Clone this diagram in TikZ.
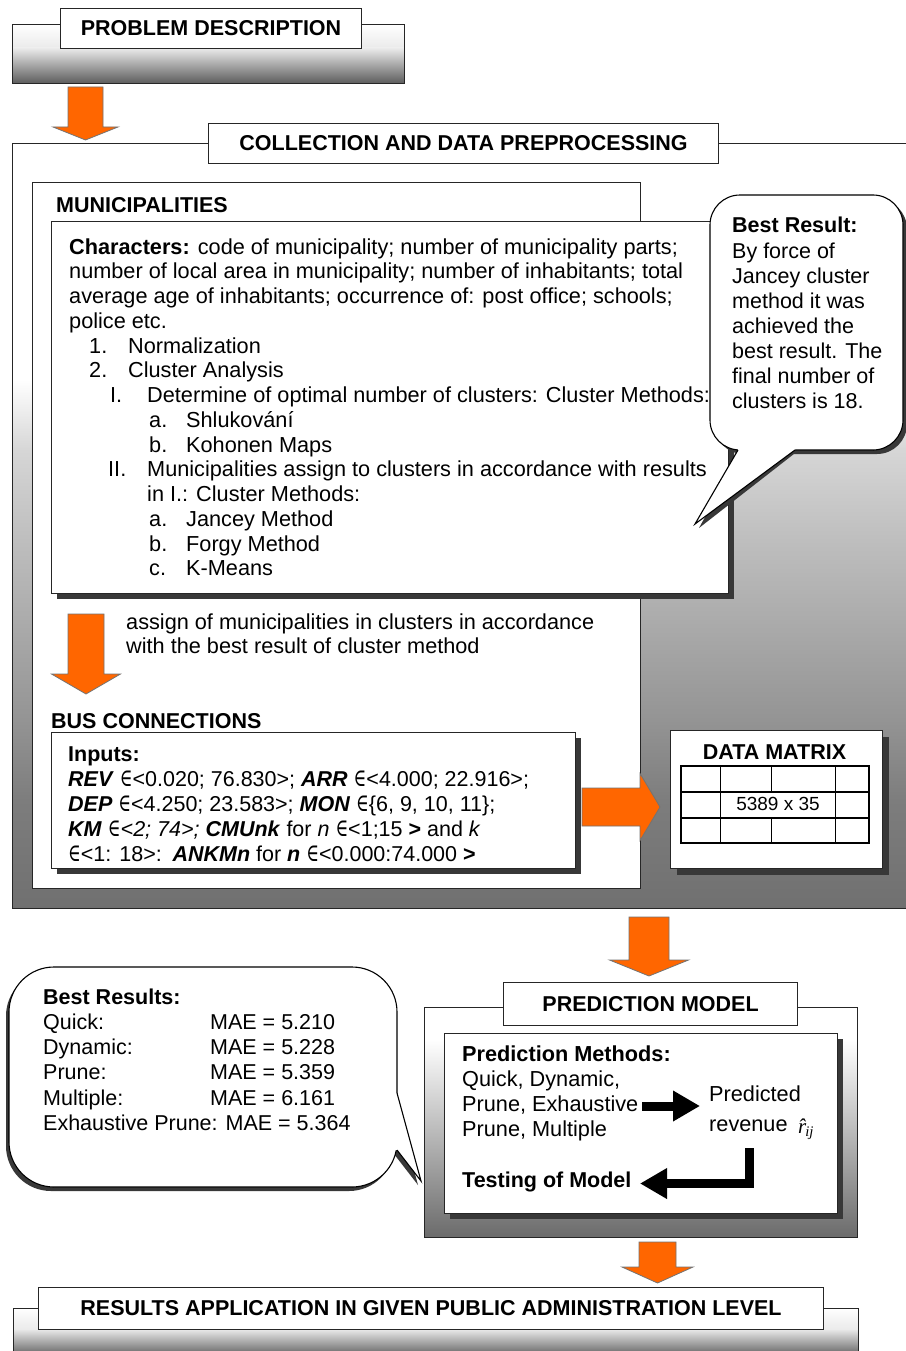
\documentclass[tikz,border=0pt]{standalone}
\usepackage{graphicx}
\usepackage{fontspec}
\setmainfont{Liberation Sans}
\newfontfamily\symfont{DejaVu Serif}
\newfontfamily\serifit{Liberation Serif}
\usetikzlibrary{arrows.meta,calc,shadows}
\definecolor{orangeA}{HTML}{FF6600}
\definecolor{shadowc}{gray}{0.22}
\newcommand\bodyfont{\fontsize{21.7}{25}\selectfont}
\newcommand\ttlfont{\fontsize{21.5}{25}\selectfont\bfseries}
\newcommand\tline[2]{\hspace*{#1pt}\makebox[#2pt][l]}
\newcommand\isin{\scalebox{0.8}[1.15]{\symfont\mdseries\upshape ∈}}
\newcommand\band[6]{\shade[top color=black!#5, bottom color=black!#6] (#1,#3) rectangle (#2,#4);}
\newcommand\blockdown[5]{\draw[orangearr] let \p1=(#1), \p2=(#2) in
  (\x1-#3pt,\y1) -- (\x1+#3pt,\y1) -- (\x1+#3pt,\y2+#5pt) -- (\x1+#4pt,\y2+#5pt)
  -- (\x1,\y2) -- (\x1-#4pt,\y2+#5pt) -- (\x1-#3pt,\y2+#5pt) -- cycle;}
\newcommand\blockright[5]{\draw[orangearr] let \p1=(#1), \p2=(#2) in
  (\x1,\y1+#3pt) -- (\x2-#5pt,\y1+#3pt) -- (\x2-#5pt,\y1+#4pt) -- (\x2,\y1)
  -- (\x2-#5pt,\y1-#4pt) -- (\x2-#5pt,\y1-#3pt) -- (\x1,\y1-#3pt) -- cycle;}
\begin{document}
\begin{tikzpicture}[x=1pt,y=-1pt,
  box/.style={draw=black!85, line width=1.1pt, fill=white, inner sep=0pt, anchor=north west},
  sbox/.style={box, drop shadow={shadow xshift=5pt, shadow yshift=-5pt, fill=shadowc, opacity=1}},
  ttl/.style={draw=black!85, line width=1.1pt, fill=white, inner sep=0pt, anchor=north west, font=\ttlfont},
  txt/.style={inner sep=0pt, anchor=base west, font=\bodyfont},
  btxt/.style={txt, font=\ttlfont},
  orangearr/.style={fill=orangeA, draw=black!55, line width=0.8pt, line join=miter},
  blackarr/.style={draw=black, line width=9pt, line join=miter, -{Triangle[length=27pt,width=29pt]}},
  callout/.style={draw=black, line width=1.1pt, fill=white},
  gridl/.style={draw=black, line width=1.3pt},
]
\useasboundingbox (0,0) rectangle (905,1351);
\fill[white] (0,0) rectangle (905,1351);

% ---------- problem description
\band{12}{404}{24}{48}{0}{8}
\band{12}{404}{48}{83}{8}{63}
\node[box, fill=none, minimum width=392pt, minimum height=59pt] (pdbox) at (12,24) {};
\node[ttl, minimum width=301pt, minimum height=40pt] (pdtitle) at (60,8) {PROBLEM DESCRIPTION};

\coordinate (a1s) at (85.5,87);
\coordinate (a1e) at (85.5,140);
\blockdown{a1s}{a1e}{17.5}{32.5}{13}

% ---------- collection
\band{12}{912}{380}{450}{0}{16}
\band{12}{912}{450}{535}{16}{25}
\band{12}{912}{535}{720}{25}{42}
\band{12}{912}{720}{800}{42}{51}
\band{12}{912}{800}{908}{51}{56}
\node[box, fill=none, minimum width=900pt, minimum height=765pt] (coll) at (12,143) {};
\node[ttl, minimum width=510pt, minimum height=40pt] (colltitle) at (208,123) {COLLECTION AND DATA PREPROCESSING};

\node[box, minimum width=608pt, minimum height=706pt] (muni) at (32,182) {};
\node[btxt] (munititle) at (56,212) {MUNICIPALITIES};
\node[sbox, minimum width=677pt, minimum height=372pt] (chars) at (51,221) {};
\node[txt, font=\fontsize{21.7}{24.75}\selectfont] (charstext) at (69,254) {\begin{tabular}[t]{@{}l@{}}
\textbf{Characters:} code of municipality; number of municipality parts;\\
number of local area in municipality; number of inhabitants; total\\
average age of inhabitants; occurrence of: post office; schools;\\
police etc.\\
\tline{20}{39}{1.}Normalization\\
\tline{20}{39}{2.}Cluster Analysis\\
\tline{41}{37}{I.}Determine of optimal number of clusters: Cluster Methods:\\
\tline{80}{37}{a.}Shlukování\\
\tline{80}{37}{b.}Kohonen Maps\\
\tline{39}{39}{II.}Municipalities assign to clusters in accordance with results\\
\hspace*{78pt}in I.: Cluster Methods:\\
\tline{80}{37}{a.}Jancey Method\\
\tline{80}{37}{b.}Forgy Method\\
\tline{80}{37}{c.}K-Means
\end{tabular}};

% callout top right
\fill[shadowc, shift={(4,4)}, rounded corners=30pt] (710,195) rectangle (903,450);
\fill[shadowc, shift={(4,4)}] (738,446) -- (695,524) -- (795,446) -- cycle;
\draw[callout, rounded corners=30pt] (710,195) rectangle (903,450);
\fill[white] (738,446) -- (738,450) -- (695,524) -- (795,450) -- (795,446) -- cycle;
\draw[callout, fill=none] (738,450) -- (695,524) -- (795,450);
\node[txt, font=\fontsize{21.5}{25.1}\selectfont] (besttext) at (732,233) {\begin{tabular}[t]{@{}l@{}}
\textbf{Best Result:}\\By force of\\Jancey cluster\\method it was\\achieved the\\best result. The\\final number of\\clusters is 18.
\end{tabular}};

% assign arrow
\coordinate (a2s) at (86,614);
\coordinate (a2e) at (86,694);
\blockdown{a2s}{a2e}{18}{34.5}{20}
\node[txt, font=\fontsize{21.7}{23.5}\selectfont] (assign) at (126,629.5) {\begin{tabular}[t]{@{}l@{}}
assign of municipalities in clusters in accordance\\with the best result of cluster method
\end{tabular}};

% bus connections
\node[btxt] (bustitle) at (51,728) {BUS CONNECTIONS};
\node[sbox, minimum width=524pt, minimum height=136pt] (inputs) at (51,732) {};
\node[txt, font=\fontsize{21.5}{25}\selectfont] (inputstext) at (68,761) {\begin{tabular}[t]{@{}l@{}}
\textbf{Inputs:}\\
\textbf{\textit{REV}} \isin<0.020; 76.830>; \textbf{\textit{ARR}} \isin<4.000; 22.916>;\\
\textbf{\textit{DEP}} \isin<4.250; 23.583>; \textbf{\textit{MON}} \isin\{6, 9, 10, 11\};\\
\textbf{\textit{KM}} \isin\textit{<2; 74>; }\textbf{\textit{CMUnk}} for \textit{n} \isin<1;15 \textbf{>} and \textit{k}\\
\isin<1: 18>:\enspace \textbf{\textit{ANKMn}} for \textbf{\textit{n}} \isin<0.000:74.000 \textbf{>}
\end{tabular}};

% data matrix
\coordinate (a3s) at (582,807);
\coordinate (a3e) at (660,807);
\blockright{a3s}{a3e}{19}{33.5}{20}
\node[box, drop shadow={shadow xshift=6pt, shadow yshift=-6pt, fill=shadowc, opacity=1}, minimum width=212pt, minimum height=138pt] (dm) at (670,730) {};
\node[btxt, anchor=center] (dmtitle) at (774.5,752) {DATA MATRIX};
\draw[gridl] (681,766) rectangle (869,843);
\draw[gridl] (681,792) -- (869,792) (681,818) -- (869,818);
\draw[gridl] (720.5,766) -- (720.5,843) (835.5,766) -- (835.5,843);
\draw[gridl] (771.5,766) -- (771.5,792) (771.5,818) -- (771.5,843);
\node[txt, anchor=center, font=\fontsize{19}{20}\selectfont] (dmsize) at (778,804) {5389 x 35};

% ---------- prediction model
\coordinate (a4s) at (649,917);
\coordinate (a4e) at (649,976);
\blockdown{a4s}{a4e}{20}{39.5}{16}
\band{424}{857}{1040}{1237}{0}{58}
\node[box, fill=none, minimum width=433pt, minimum height=230pt] (predbox) at (424,1007) {};
\node[ttl, minimum width=294pt, minimum height=43pt] (predtitle) at (503,982) {PREDICTION MODEL};
\node[sbox, minimum width=393pt, minimum height=180pt] (predinner) at (444,1033) {};
\node[txt, font=\fontsize{21.7}{25}\selectfont] (methods) at (462,1061) {\begin{tabular}[t]{@{}l@{}}
\textbf{Prediction Methods:}\\Quick, Dynamic,\\Prune, Exhaustive\\Prune, Multiple
\end{tabular}};
\node[txt] (predicted) at (709,1101) {Predicted};
\node[txt] (revenue) at (709,1131) {revenue};
\node[txt, font=\serifit\itshape\fontsize{21}{21}\selectfont] (rhat) at (798,1133) {\^{r}\textsubscript{\kern-1pt ij}};
\node[btxt] (testing) at (462,1187.5) {Testing of Model};
\coordinate (b1s) at (642,1106);
\coordinate (b1e) at (700,1106);
\draw[blackarr] (b1s) -- (b1e);
\coordinate (b2s) at (749,1148);
\coordinate (b2e) at (640,1183.5);
\draw[blackarr] (b2s) |- (b2e);

% callout left
\fill[shadowc, shift={(-3,4)}, rounded corners=45pt] (9,967) rectangle (397,1187);
\fill[shadowc, shift={(-3,4)}] (397,1093) -- (421,1181) -- (397,1150) -- cycle;
\draw[callout, rounded corners=45pt] (9,967) rectangle (397,1187);
\fill[white] (393,1093) -- (397,1093) -- (421,1181) -- (397,1150) -- (393,1150) -- cycle;
\draw[callout, fill=none] (397,1093) -- (421,1181) -- (397,1150);
\node[txt, font=\fontsize{21.5}{25.3}\selectfont] (bestres) at (43,1004) {\begin{tabular}[t]{@{}l@{}}
\textbf{Best Results:}\\
\makebox[167pt][l]{Quick:}MAE = 5.210\\
\makebox[167pt][l]{Dynamic:}MAE = 5.228\\
\makebox[167pt][l]{Prune:}MAE = 5.359\\
\makebox[167pt][l]{Multiple:}MAE = 6.161\\
Exhaustive Prune: MAE = 5.364
\end{tabular}};

% ---------- results
\coordinate (a5s) at (657.5,1242);
\coordinate (a5e) at (657.5,1283);
\blockdown{a5s}{a5e}{18.5}{35.5}{16}
\band{13}{858}{1308}{1329}{0}{8}
\band{13}{858}{1329}{1352}{8}{55}
\node[box, fill=none, minimum width=845pt, minimum height=50pt] (resbox) at (13,1308) {};
\node[ttl, minimum width=785pt, minimum height=42pt] (restitle) at (38,1287) {RESULTS APPLICATION IN GIVEN PUBLIC ADMINISTRATION LEVEL};
\end{tikzpicture}
\end{document}
